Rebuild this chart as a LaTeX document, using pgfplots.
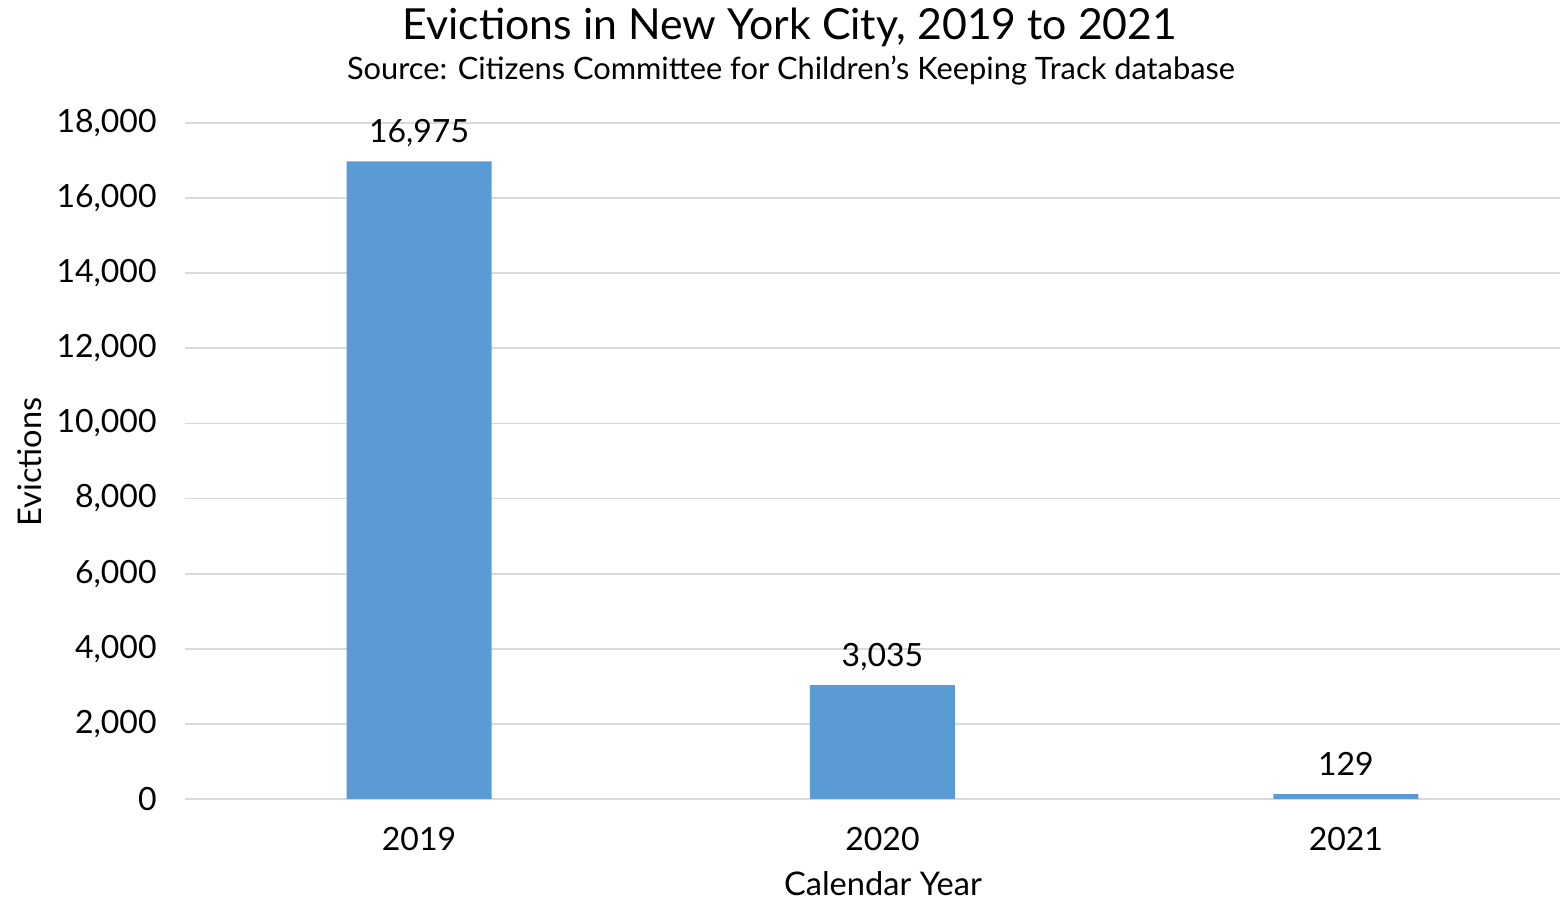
\documentclass[border=0pt]{standalone}
\usepackage{fontspec}
\setmainfont{Lato}
\usepackage{pgfplots}
\pgfplotsset{compat=1.18}
\definecolor{barblue}{HTML}{5B9BD5}
\definecolor{gridgray}{HTML}{D9D9D9}
\begin{document}
\begin{tikzpicture}
\useasboundingbox (0pt,0pt) rectangle (780pt,450pt);
\begin{axis}[
  at={(92.5pt,50.5pt)}, anchor=south west,
  scale only axis, width=687.5pt, height=338pt,
  xmin=-0.505, xmax=2.462,
  ymin=0, ymax=18000,
  ytick distance=2000,
  xtick={0,1,2},
  xticklabels={2019,2020,2021},
  /pgf/number format/assume math mode=true,
  /pgf/number format/1000 sep={,},
  scaled y ticks=false,
  axis line style={draw=none},
  major tick length=0pt,
  ymajorgrids,
  major grid style={gridgray, line width=0.9pt},
  tick label style={font=\fontsize{16}{19}\selectfont, text=black},
  yticklabel style={inner sep=0pt, xshift=-14pt},
  xticklabel style={inner sep=0pt, anchor=base, yshift=-26pt},
  xlabel={Calendar Year},
  ylabel={Evictions},
  label style={font=\fontsize{16.3}{19}\selectfont},
  xlabel style={at={(axis description cs:0.5076,-0.125)}, anchor=center, inner sep=0pt},
  ylabel style={at={(axis description cs:-0.1127,0.4985)}, anchor=center, rotate=0, inner sep=0pt},
  ybar, bar width=72.5pt,
  nodes near coords,
  every node near coord/.append style={font=\fontsize{16}{19}\selectfont, anchor=base, inner sep=0pt, yshift=9.5pt, text=black},
  clip=false,
]
\addplot[fill=barblue, draw=none] coordinates {(0,16975) (1,3035) (2,129)};
\end{axis}
\node[font=\fontsize{21.4}{25}\selectfont] at (395pt,436.5pt) {Evictions in New York City, 2019 to 2021};
\node[font=\fontsize{15.4}{18}\selectfont] at (395.5pt,414.5pt) {Source: Citizens Committee for Children’s Keeping Track database};
\end{tikzpicture}
\end{document}
